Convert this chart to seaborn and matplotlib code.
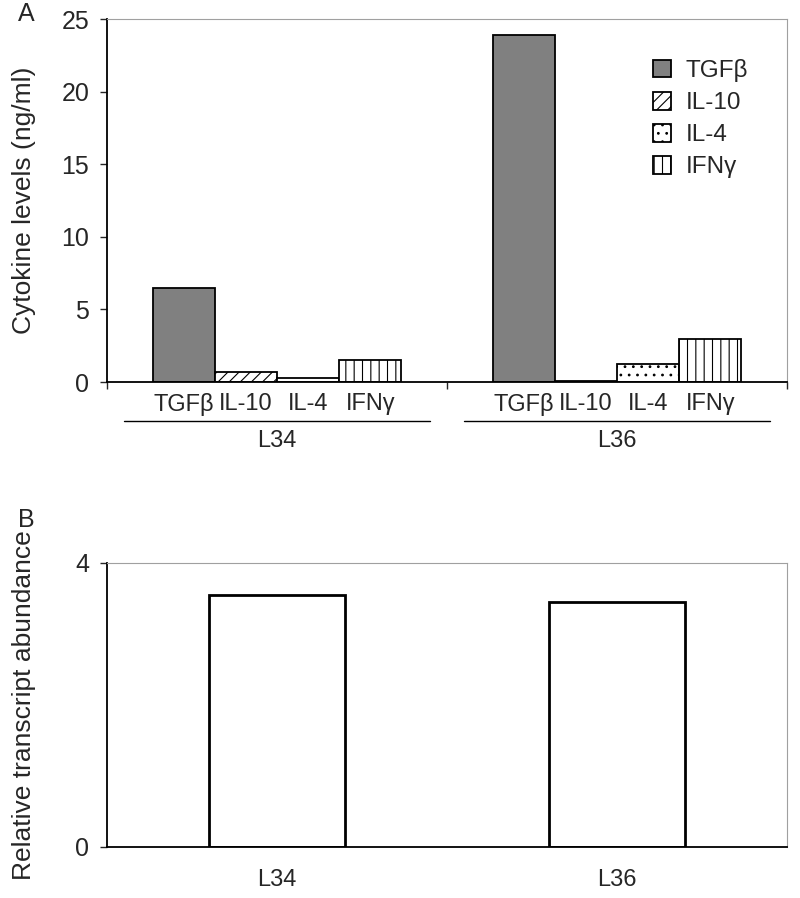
import pandas as pd
import seaborn as sns
import matplotlib.pyplot as plt
import matplotlib.transforms as mtransforms

########## Data

lines      = ["L34", "L36"]
cytokines  = ["TGFβ", "IL-10", "IL-4", "IFNγ"]
tgfb       = [6.5, 23.9]
il10       = [0.7, 0.1]
il4        = [0.25, 1.25]
ifng       = [1.5, 2.95]
transcript = [3.55, 3.45]

df_a = pd.DataFrame({
    "line":     lines * 4,
    "cytokine": [c for c in cytokines for _ in lines],
    "value":    tgfb + il10 + il4 + ifng,
})
df_b = pd.DataFrame({"line": lines, "value": transcript})

########## Style

sns.set_style("white")
plt.rcParams['font.family'] = ['Liberation Sans', 'DejaVu Sans']
narrow = ['Liberation Sans Narrow', 'Liberation Sans', 'DejaVu Sans']
plt.rcParams['hatch.linewidth'] = 0.8
frame_gray = "#a0a0a0"

fig = plt.figure(figsize = (8, 8.98), dpi = 100)
ax_a = fig.add_axes([0.134, 0.5746, 0.850, 0.4042])
ax_b = fig.add_axes([0.134, 0.0568, 0.850, 0.3163])

########## Panel A

sns.barplot(data = df_a, x = "line", y = "value", hue = "cytokine", order = lines,
            hue_order = cytokines, width = 0.73, gap = 0, legend = False,
            edgecolor = "black", linewidth = 1.3, ax = ax_a)

faces   = ["#808080", "white", "white", "white"]
hatches = [None, "///", "..", "||"]
for cont, fc, h in zip(ax_a.containers, faces, hatches):
    for p in cont:
        p.set_facecolor(fc)
        p.set_edgecolor("black")
        if h:
            p.set_hatch(h)

ax_a.set_ylim(0, 25)
ax_a.set_xlim(-0.5, 1.5)
ax_a.set_yticks([0, 5, 10, 15, 20, 25])
ax_a.tick_params(axis = 'y', labelsize = 18, length = 5, width = 1, direction = 'out', left = True, pad = 8)

# boundary ticks on x, bar names as minor labels
centers = sorted(p.get_x() + p.get_width() / 2 for cont in ax_a.containers for p in cont)
names   = [cytokines[i % 4] for i in range(len(centers))]
ax_a.set_xticks([-0.5, 0.5, 1.5])
ax_a.set_xticklabels([])
ax_a.set_xticks(centers, minor = True)
ax_a.set_xticklabels(names, minor = True, fontsize = 17)
ax_a.tick_params(axis = 'x', which = 'major', length = 5, width = 1, direction = 'out', bottom = True)
ax_a.tick_params(axis = 'x', which = 'minor', length = 0, pad = 8)
ax_a.set_xlabel("")
ax_a.set_ylabel("Cytokine levels (ng/ml)", fontsize = 19, labelpad = 18)

trans = mtransforms.blended_transform_factory(ax_a.transData, ax_a.transAxes)
for i, name in enumerate(lines):
    ax_a.plot([i - 0.45, i + 0.45], [-0.107, -0.107], color = "black", lw = 1,
              transform = trans, clip_on = False)
    ax_a.text(i, -0.162, name, transform = trans, ha = "center", va = "center",
              fontsize = 17, family = narrow)

leg = ax_a.legend(handles = ax_a.containers, labels = cytokines, loc = "upper right",
                  bbox_to_anchor = (0.975, 0.95), frameon = False, fontsize = 17.5,
                  handlelength = 0.75, handleheight = 0.75, handletextpad = 0.6,
                  labelspacing = 0.4)

for side in ["top", "right"]:
    ax_a.spines[side].set_color(frame_gray)
for side in ["left", "bottom"]:
    ax_a.spines[side].set_color("black")
    ax_a.spines[side].set_linewidth(1.3)

fig.text(0.022, 0.984, "A", fontsize = 18, ha = "left", va = "center")

########## Panel B

sns.barplot(data = df_b, x = "line", y = "value", order = lines, width = 0.40,
            color = "white", edgecolor = "black", linewidth = 2, ax = ax_b)
ax_b.set_ylim(0, 4)
ax_b.set_xlim(-0.5, 1.5)
ax_b.set_yticks([0, 4])
ax_b.tick_params(axis = 'y', labelsize = 18, length = 5, width = 1, direction = 'out', left = True, pad = 8)
ax_b.tick_params(axis = 'x', length = 0, pad = 16)
for lab in ax_b.get_xticklabels():
    lab.set_family(narrow)
    lab.set_fontsize(17)
ax_b.set_xlabel("")
ax_b.set_ylabel("Relative transcript abundance", fontsize = 19, labelpad = 28)

for side in ["top", "right"]:
    ax_b.spines[side].set_color(frame_gray)
for side in ["left", "bottom"]:
    ax_b.spines[side].set_color("black")
    ax_b.spines[side].set_linewidth(1.3)

fig.text(0.022, 0.421, "B", fontsize = 18, ha = "left", va = "center")

fig.savefig("out.png", dpi = 100)
